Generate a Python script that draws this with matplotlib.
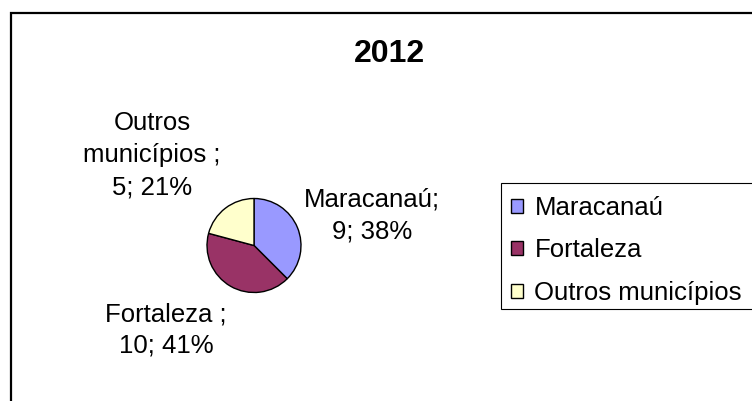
import matplotlib
matplotlib.use("Agg")
import matplotlib.pyplot as plt
from matplotlib.patches import Rectangle

plt.rcParams['font.family'] = ['Liberation Sans', 'DejaVu Sans']

# ---- data ----
title = "2012"
categories = ["Maracanaú", "Fortaleza", "Outros municípios"]
label_names = ["Maracanaú;", "Fortaleza ;", "Outros\nmunicípios ;"]
values = [9, 10, 5]
percents = [38, 41, 21]
colors = ["#9999FF", "#993366", "#FFFFCC"]

W, H = 752, 401
fig = plt.figure(figsize=(W / 100, H / 100), dpi=100)
fig.patch.set_facecolor("white")

def fx(px):
    return px / W

def fy(py):
    return 1 - py / H

# outer chart border (extends beyond right/bottom edge)
fig.patches.append(Rectangle((fx(11), -0.2), 1.3, fy(13) + 0.2,
                             transform=fig.transFigure, fill=False,
                             edgecolor="black", linewidth=1.6, zorder=0))

# pie axes
cx, cy, r = 254, 245.5, 47
ax = fig.add_axes([fx(cx - r), fy(cy + r), 2 * r / W, 2 * r / H])
wedges, _ = ax.pie(values, colors=colors, startangle=90, counterclock=False,
                   wedgeprops=dict(edgecolor="black", linewidth=1.0))
ax.set_xlim(-1, 1)
ax.set_ylim(-1, 1)
ax.set_aspect("equal")
for w in wedges:
    w.set_clip_on(False)

# data labels (y = baseline of last line)
label_pos = [(372, 238), (166, 353), (152, 194)]
for name, v, p, (lx, ly) in zip(label_names, values, percents, label_pos):
    fig.text(fx(lx), fy(ly), f"{name}\n{v}; {p}%", ha="center",
             va="baseline", fontsize=18.5, linespacing=1.42, color="black")

# title
fig.text(fx(389), fy(62.5), title, ha="center", va="baseline",
         fontsize=23, fontweight="bold", color="black")

# legend frame (extends beyond right edge)
fig.patches.append(Rectangle((fx(501), fy(309)), 1.0, fy(183) - fy(309),
                             transform=fig.transFigure, fill=True,
                             facecolor="white", edgecolor="black",
                             linewidth=0.8, zorder=1))

leg = fig.legend(wedges, categories, loc="upper left",
                 bbox_to_anchor=(fx(498), fy(183)),
                 fontsize=18.5, frameon=False,
                 handlelength=0.47, handleheight=0.47, handletextpad=0.45,
                 borderpad=0.5, labelspacing=0.72, borderaxespad=0)
leg.set_zorder(2)

fig.savefig("out.png", dpi=100, facecolor="white")
